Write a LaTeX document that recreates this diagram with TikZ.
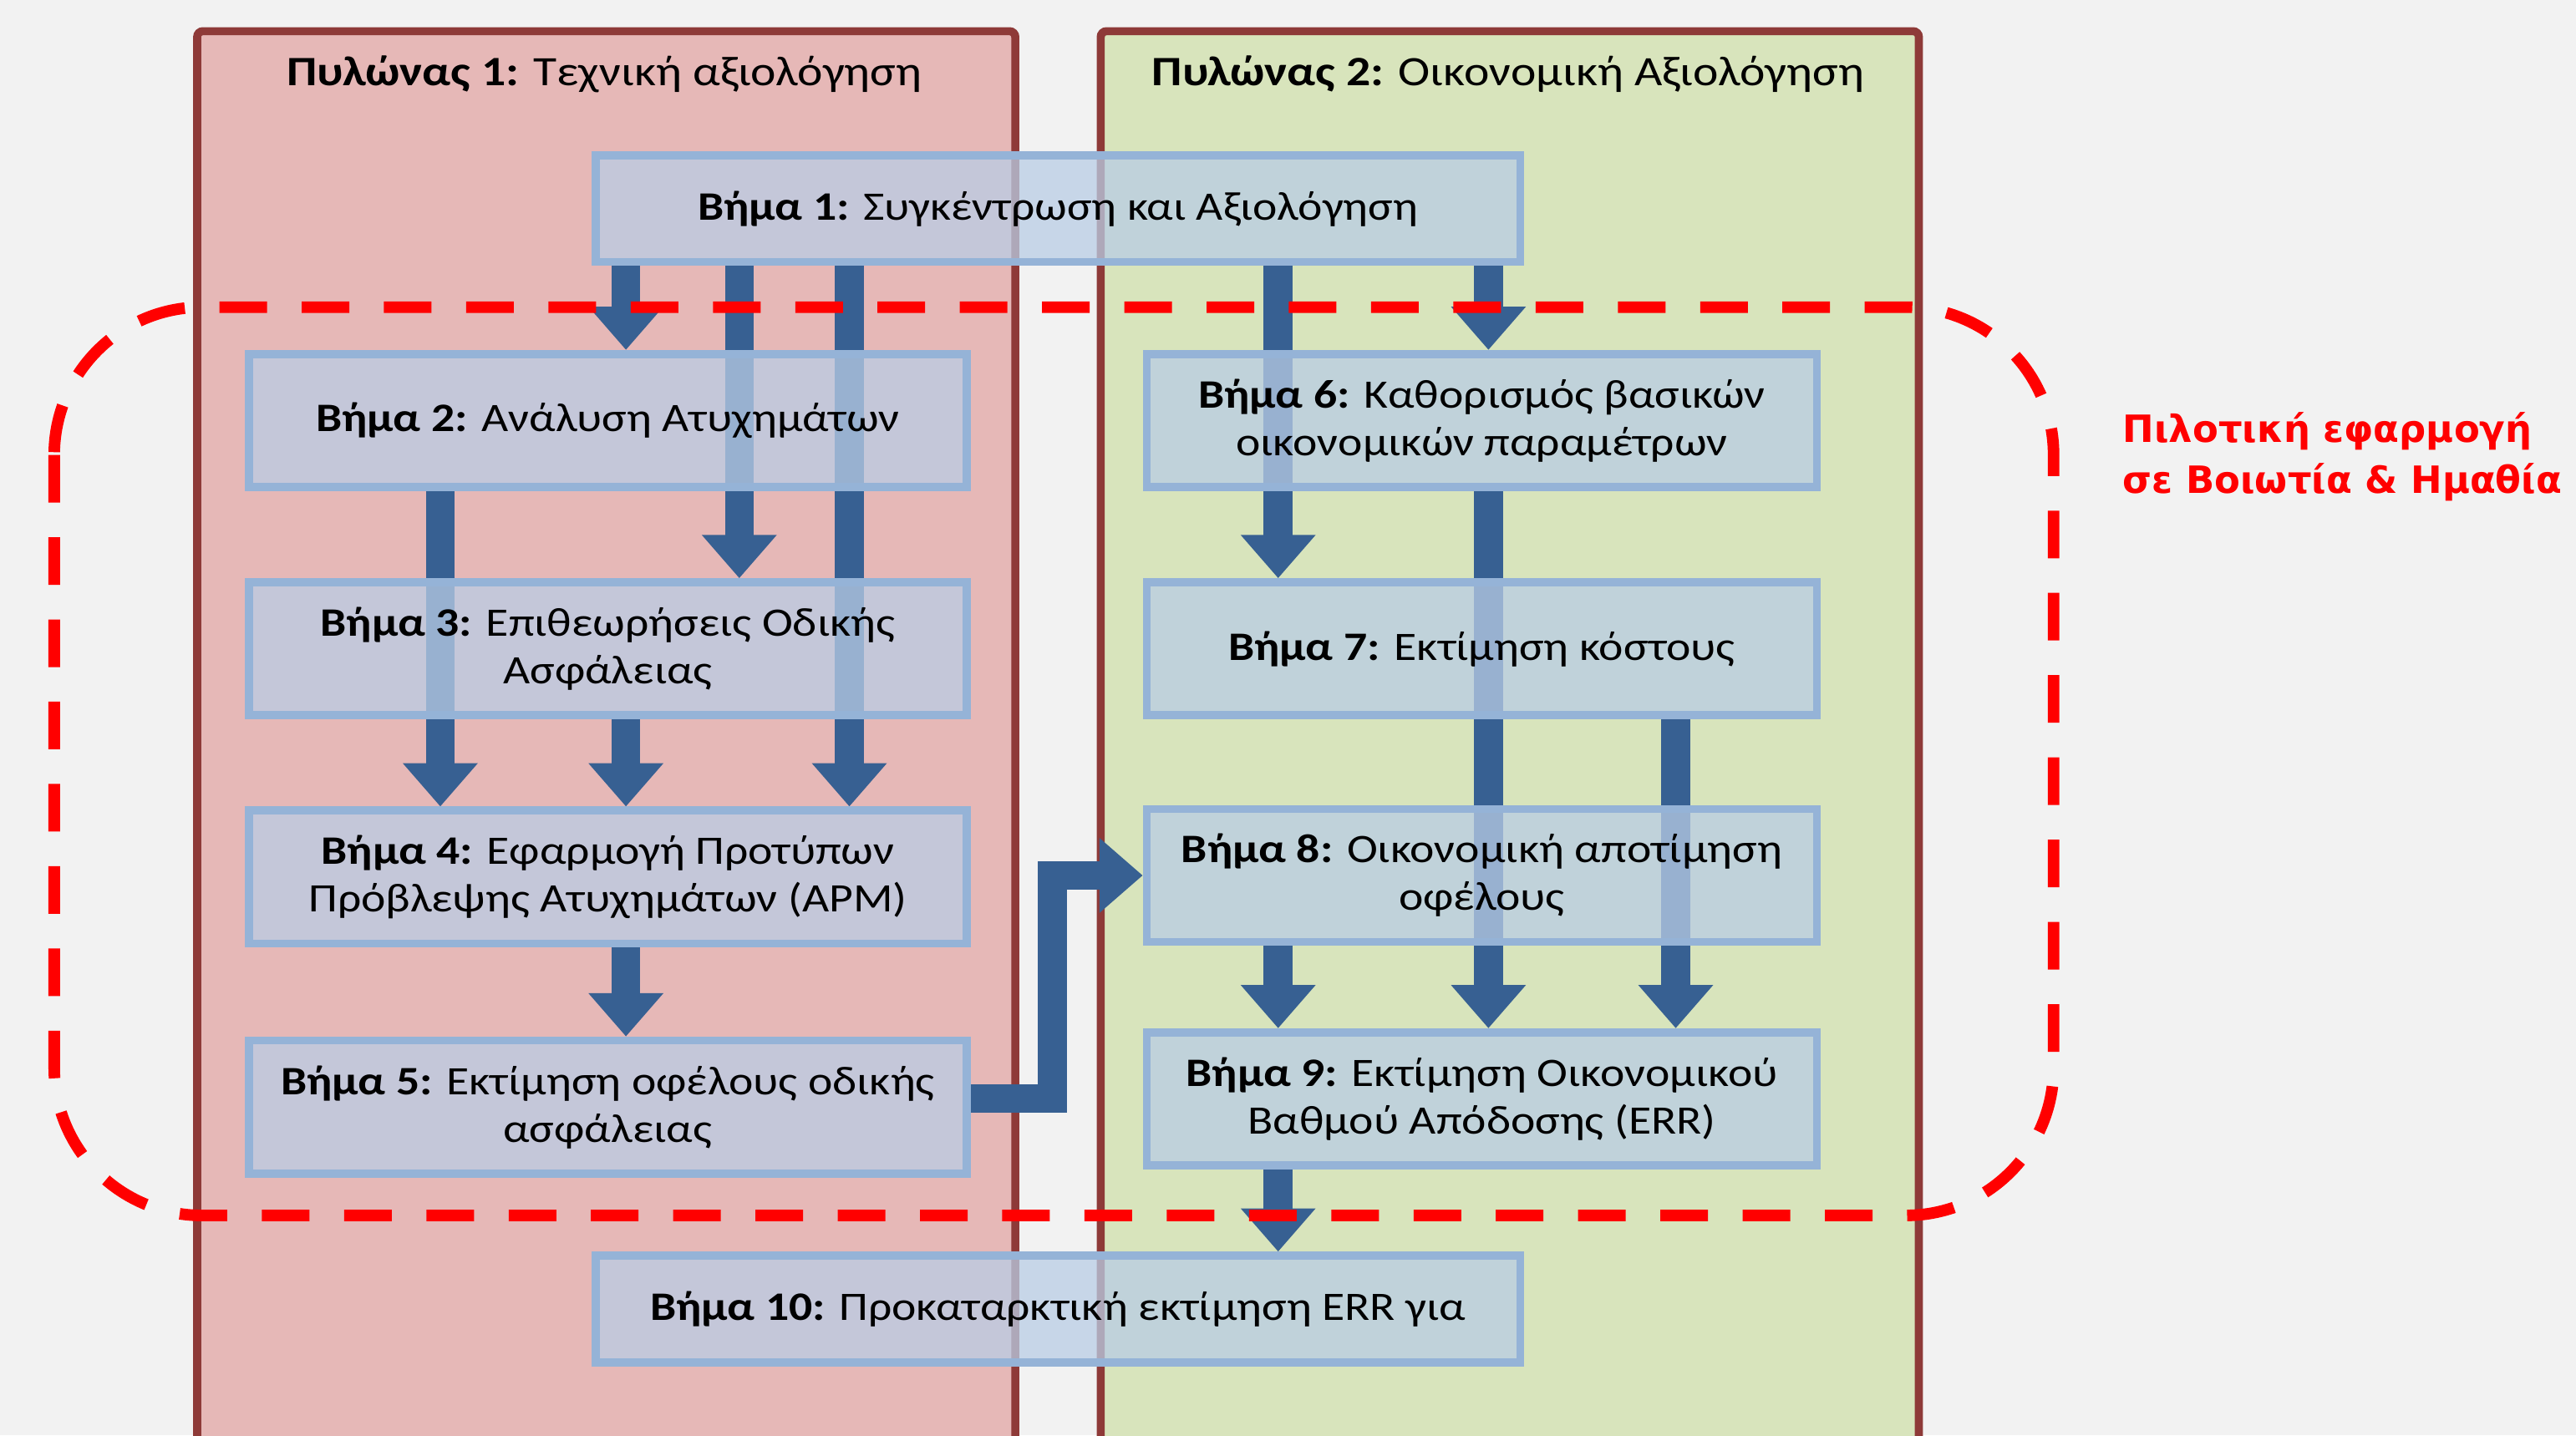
\documentclass[tikz,border=0pt]{standalone}
\usepackage{fontspec}
\setmainfont[FakeStretch=1.15]{Carlito}
\newfontfamily\notefont{DejaVu Sans}
\usepackage{tikz}
\usetikzlibrary{arrows.meta}
\usetikzlibrary{calc}

\definecolor{pagegray}{HTML}{F2F2F2}
\definecolor{pillarline}{HTML}{8E3A38}
\definecolor{techpink}{HTML}{E6B8B7}
\definecolor{econgreen}{HTML}{D8E4BC}
\definecolor{stageline}{HTML}{95B3D7}
\definecolor{stagefill}{HTML}{B9CDE5}
\definecolor{flowblue}{HTML}{376092}
\definecolor{pilotred}{HTML}{FF0000}

\pgfdeclarelayer{back}
\pgfdeclarelayer{flows}
\pgfsetlayers{back,flows,main}

\begin{document}
\begin{tikzpicture}[x=0.02cm,y=-0.02cm,>={Triangle[length=15pt,width=25pt]},
  pillar/.style={draw=pillarline,line width=2.8pt,rounded corners=2pt},
  pillar title/.style={font=\fontsize{14.5}{17}\selectfont},
  stage/.style={draw=stageline,line width=2.8pt,fill=stagefill,fill opacity=0.75,text opacity=1,
    align=center,inner sep=0pt,font=\fontsize{14}{16.5}\selectfont},
  wide stage/.style={stage,minimum width=11.26cm,minimum height=1.3cm},
  tech stage/.style={stage,minimum width=8.74cm,minimum height=1.62cm},
  econ stage/.style={stage,minimum width=8.16cm,minimum height=1.62cm},
  flow/.style={->,draw=flowblue,line width=10pt},
  pilot/.style={draw=pilotred,line width=4pt,dash pattern=on 16.5pt off 12pt,rounded corners=1.8cm},
  pilot note/.style={text=pilotred,align=left,font=\notefont\bfseries\fontsize{13}{17.6}\selectfont}]

  \useasboundingbox (0,0) rectangle (1568,874);
  \clip (0,0) rectangle (1568,874);

  % page and the two pillars
  \begin{pgfonlayer}{back}
    \fill[pagegray] (0,0) rectangle (1568,874);
    \draw[pillar,fill=techpink] (120,19) rectangle (618,880);
    \draw[pillar,fill=econgreen] (670,19) rectangle (1168,880);
    \node[pillar title] (p1) at (368,45) {\textbf{Πυλώνας 1:} Τεχνική αξιολόγηση};
    \node[pillar title] (p2) at (918,45) {\textbf{Πυλώνας 2:} Οικονομική Αξιολόγηση};
  \end{pgfonlayer}

  % steps
  \node[wide stage] (s1) at (644,127) {\textbf{Βήμα 1:} Συγκέντρωση και Αξιολόγηση};
  \node[tech stage] (s2) at (370,256) {\textbf{Βήμα 2:} Ανάλυση Ατυχημάτων};
  \node[tech stage] (s3) at (370,395) {\textbf{Βήμα 3:} Επιθεωρήσεις Οδικής\\Ασφάλειας};
  \node[tech stage] (s4) at (370,534) {\textbf{Βήμα 4:} Εφαρμογή Προτύπων\\Πρόβλεψης Ατυχημάτων (APM)};
  \node[tech stage] (s5) at (370,674) {\textbf{Βήμα 5:} Εκτίμηση οφέλους οδικής\\ασφάλειας};
  \node[econ stage] (s6) at (902,256) {\textbf{Βήμα 6:} Καθορισμός βασικών\\οικονομικών παραμέτρων};
  \node[econ stage] (s7) at (902,395) {\textbf{Βήμα 7:} Εκτίμηση κόστους};
  \node[econ stage] (s8) at (902,533) {\textbf{Βήμα 8:} Οικονομική αποτίμηση\\οφέλους};
  \node[econ stage] (s9) at (902,669) {\textbf{Βήμα 9:} Εκτίμηση Οικονομικού\\Βαθμού Απόδοσης (ERR)};
  \node[wide stage] (s10) at (644,797) {\textbf{Βήμα 10:} Προκαταρκτική εκτίμηση ERR για};

  % columns of the arrows
  \coordinate (c0) at (268,0);
  \coordinate (c1) at (381,0);
  \coordinate (c2) at (450,0);
  \coordinate (c3) at (517,0);
  \coordinate (c4) at (778,0);
  \coordinate (c5) at (906,0);
  \coordinate (c6) at (1020,0);

  \begin{pgfonlayer}{flows}
    \draw[flow] (s1.south -| c1) -- (s2.north -| c1);
    \draw[flow] (s1.south -| c2) -- (s3.north -| c2);
    \draw[flow] (s1.south -| c3) -- (s4.north -| c3);
    \draw[flow] (s1.south -| c4) -- (s7.north -| c4);
    \draw[flow] (s1.south -| c5) -- (s6.north -| c5);
    \draw[flow] (s2.south -| c0) -- (s4.north -| c0);
    \draw[flow] (s3.south -| c1) -- (s4.north -| c1);
    \draw[flow] (s4.south -| c1) -- (s5.north -| c1);
    \draw[flow] (s6.south -| c5) -- (s9.north -| c5);
    \draw[flow] (s7.south -| c6) -- (s9.north -| c6);
    \draw[flow] (s8.south -| c4) -- (s9.north -| c4);
    \draw[flow] (s9.south -| c4) -- (s10.north -| c4);
    \draw[flow] ([yshift=3pt]s5.east) -| ([xshift=-1.1cm]s8.west) -- (s8.west);
  \end{pgfonlayer}

  % pilot area
  \draw[pilot] (33,187) rectangle (1250,740);
  \node[pilot note,anchor=west] (pilot) at (1286,278) {Πιλοτική εφαρμογή\\σε Βοιωτία \& Ημαθία};
\end{tikzpicture}
\end{document}
